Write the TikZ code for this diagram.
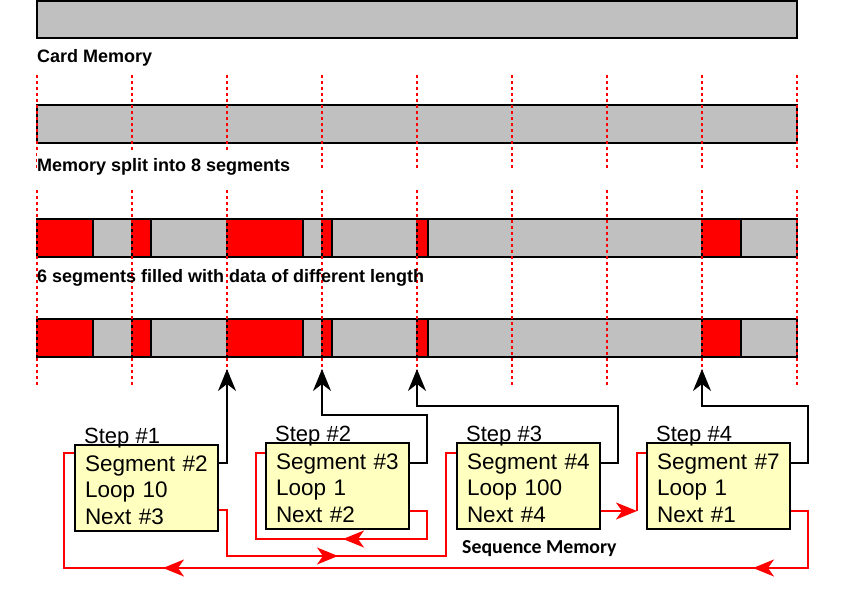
\documentclass[tikz,border=0pt]{standalone}
\usepackage{fontspec}
\setmainfont{Liberation Sans}
\newfontfamily\seqfont{Carlito}
\usetikzlibrary{arrows.meta}

\definecolor{barGrey}{RGB}{192,192,192}
\definecolor{stepYellow}{RGB}{255,255,192}
\definecolor{dataRed}{RGB}{255,0,0}

\begin{document}
\begin{tikzpicture}[x=1pt, y=-1pt,
	bar/.style={draw=black, line width=2pt, fill=barGrey},
	filled/.style={draw=black, line width=2pt, fill=dataRed},
	split/.style={draw=dataRed, line width=2.5pt, dash pattern=on 3pt off 3pt},
	caption/.style={anchor=base west, inner sep=0pt, font=\bfseries\fontsize{18}{20}\selectfont},
	stepbox/.style={draw=black, line width=2pt, fill=stepYellow, anchor=north west, align=left, text width=123pt, inner xsep=10pt, inner ysep=0pt, text height=26pt, text depth=60pt, font=\fontsize{22.5}{26.5}\selectfont},
	steplabel/.style={anchor=base west, inner sep=0pt, font=\fontsize{22}{24}\selectfont},
	segline/.style={draw=black, line width=2pt, -{Stealth[length=22pt, width=18pt, inset=7pt]}},
	nextline/.style={draw=dataRed, line width=2pt},
	nexttip/.style={draw=dataRed, line width=2pt, -{Stealth[length=21pt, width=17pt, inset=6pt]}}]

	\fill[white] (0,0) rectangle (865,598);
	\useasboundingbox (0,0) rectangle (865,598);

	\draw[bar] (37,1) rectangle (797,38);
	\draw[bar] (37,105) rectangle (797,143);
	\foreach \y in {219, 319}
	{
	\draw[bar] (37,\y) rectangle (797,\y+38);
	\foreach \a/\b in {37/93, 132/151, 227/303, 322/332, 417/428, 702/741}
	\draw[filled] (\a,\y) rectangle (\b,\y+38);
	}

	\foreach \k in {0,1,2,3,4,5,6,7,8}
	{
	\draw[split] (37+95*\k,75) -- (37+95*\k,170);
	\draw[split] (37+95*\k,190) -- (37+95*\k,385);
	}

	\node[caption] (card) at (37,62) {Card Memory};
	\node[caption, fill=white, inner ysep=5pt] (split8) at (37,171) {Memory split into 8 segments};
	\node[caption] (filled6) at (37,282) {6 segments filled with data of different length};

	\coordinate (seg2) at (227,369);
	\coordinate (seg3) at (322,369);
	\coordinate (seg4) at (417,369);
	\coordinate (seg7) at (702,369);

	\node[stepbox] (step1) at (74,444) {Segment~\#2\\Loop~10\\Next~\#3};
	\node[stepbox] (step2) at (265,442) {Segment~\#3\\Loop~1\\Next~\#2};
	\node[stepbox] (step3) at (456,442) {Segment~\#4\\Loop~100\\Next~\#4};
	\node[stepbox] (step4) at (646,442) {Segment~\#7\\Loop~1\\Next~\#1};
	\foreach \n in {1,2,3,4}
	\node[steplabel] (lbl\n) at ([xshift=10pt, yshift=1pt]step\n.north west) {Step \#\n};

	\node[anchor=base west, inner sep=0pt, font=\seqfont\bfseries\fontsize{19.8}{22}\selectfont] (seqmem) at (462,553) {Sequence Memory};

	\draw[segline] (step1.east |- 0,463) -| (seg2);
	\draw[segline] (step2.east |- 0,463) -- (427,463) |- (322,415) -- (seg3);
	\draw[segline] (step3.east |- 0,463) -- (618,463) |- (417,406) -- (seg4);
	\draw[segline] (step4.east |- 0,463) -- (808,463) |- (702,406) -- (seg7);

	\draw[nextline] (step1.east |- 0,510) -| (227,556) -| (446,453) -- (step3.west |- 0,453);
	\draw[nexttip] (318,556) -- (338,556);
	\draw[nextline] (step2.east |- 0,511) -| (427,539) -| (256,453) -- (step2.west |- 0,453);
	\draw[nexttip] (365,539) -- (343,539);
	\draw[nexttip] (step3.east |- 0,511) -- (637,511);
	\draw[nextline] (637,511) |- (step4.west |- 0,453);
	\draw[nextline] (step4.east |- 0,511) -| (808,568) -| (64,453) -- (step1.west |- 0,453);
	\draw[nexttip] (775,568) -- (753,568);
	\draw[nexttip] (183,568) -- (163,568);

\end{tikzpicture}
\end{document}
